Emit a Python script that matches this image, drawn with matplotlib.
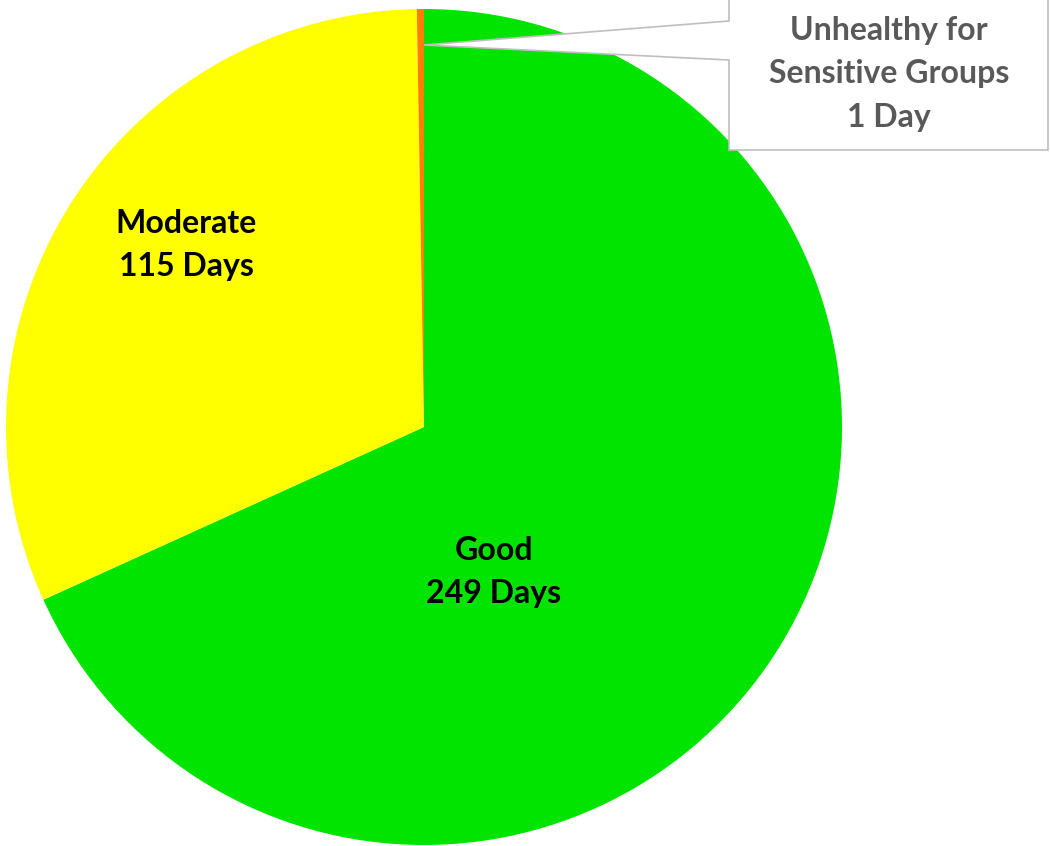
import matplotlib
matplotlib.use("Agg")
import matplotlib.pyplot as plt
from matplotlib.patches import Polygon

categories = ["Good", "Moderate", "Unhealthy for\nSensitive Groups"]
days = [249, 115, 1]
colors = ["#00E400", "#FFFF00", "#FF7E00"]

plt.rcParams['font.family'] = ['Lato', 'DejaVu Sans']

W, H = 1050, 846
fig = plt.figure(figsize=(W / 100, H / 100), dpi=100)

# pie centre (424, 427) px, radius 418 px
cx, cy, r = 424, 427, 418
ax = fig.add_axes([(cx - r) / W, (H - cy - r) / H, 2 * r / W, 2 * r / H])
ax.pie(days, colors=colors, startangle=90, counterclock=False,
       wedgeprops=dict(linewidth=0))
ax.set_xlim(-1, 1)
ax.set_ylim(-1, 1)
ax.set_aspect('equal')
ax.axis('off')

ax.text(-0.569, 0.435, f"{categories[1]}\n{days[1]} Days", ha='center', va='center',
        fontsize=23, fontweight='bold', linespacing=1.6)
ax.text(0.167, -0.347, f"{categories[0]}\n{days[0]} Days", ha='center', va='center',
        fontsize=23, fontweight='bold', linespacing=1.6)

# callout box with pointer, in pixel coords (y from top)
pts = [(729, -10), (1048, -10), (1048, 150), (729, 150), (729, 60),
       (424, 45), (729, 21)]
pts = [(x / W, 1 - y / H) for x, y in pts]
fig.patches.append(Polygon(pts, closed=True, transform=fig.transFigure,
                           facecolor='white', edgecolor='#BFBFBF', linewidth=1.2,
                           zorder=5))
fig.text(889 / W, 1 - 74 / H, f"{categories[2]}\n{days[2]} Day", ha='center',
         va='center', fontsize=23, fontweight='bold', color='#595959',
         linespacing=1.6, zorder=6)

fig.savefig("out.png", dpi=100, facecolor='white')
